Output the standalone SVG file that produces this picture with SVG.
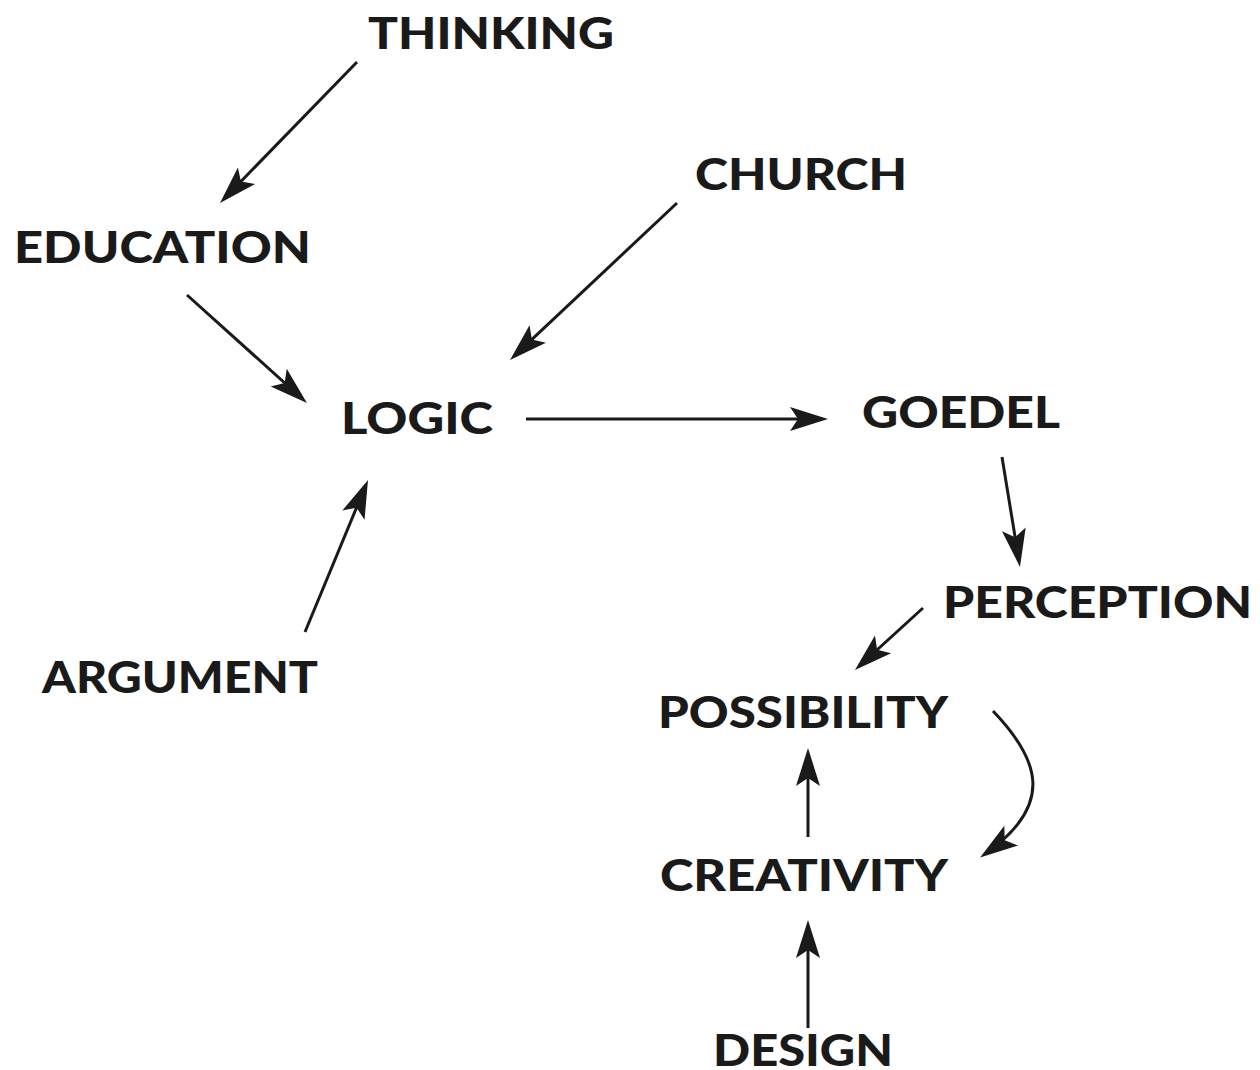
<svg xmlns="http://www.w3.org/2000/svg" width="1260" height="1070" viewBox="0 0 1260 1070">
  <defs>
    <style>
      .label { font-family: "Lato", "Liberation Sans", "DejaVu Sans", sans-serif; font-weight: 900; font-size: 43px; fill: #1a1a1a; }
      .edge { fill: none; stroke: #1a1a1a; stroke-width: 3; stroke-linecap: butt; }
    </style>
    <marker id="head" markerUnits="userSpaceOnUse" viewBox="-36 -13 44 26" markerWidth="44" markerHeight="26" refX="0" refY="0" orient="auto">
      <path d="M6,0 L-32,-12 L-24,0 L-32,12 Z" fill="#1a1a1a"/>
    </marker>
  </defs>
  <rect width="1260" height="1070" fill="#ffffff"/>

  <!-- connectors -->
  <g id="connectors">
    <line class="edge" x1="357" y1="62" x2="224.2" y2="198.7" marker-end="url(#head)"/>
    <line class="edge" x1="677" y1="203" x2="514.4" y2="355.9" marker-end="url(#head)"/>
    <line class="edge" x1="187" y1="295" x2="302.5" y2="399" marker-end="url(#head)"/>
    <line class="edge" x1="526" y1="419" x2="822" y2="419" marker-end="url(#head)"/>
    <line class="edge" x1="1002" y1="457" x2="1019" y2="561" marker-end="url(#head)"/>
    <line class="edge" x1="923" y1="608" x2="859.4" y2="666" marker-end="url(#head)"/>
    <line class="edge" x1="305" y1="632" x2="365.7" y2="485.5" marker-end="url(#head)"/>
    <line class="edge" x1="808" y1="837" x2="808" y2="754" marker-end="url(#head)"/>
    <line class="edge" x1="808" y1="1028" x2="808" y2="926" marker-end="url(#head)"/>
    <path class="edge" d="M993,711 C1040,760 1055,805 985,854" marker-end="url(#head)"/>
  </g>

  <!-- nodes -->
  <g id="thinking"><text class="label" x="368" y="49" textLength="246" lengthAdjust="spacingAndGlyphs">THINKING</text></g>
  <g id="church"><text class="label" x="695" y="190" textLength="212" lengthAdjust="spacingAndGlyphs">CHURCH</text></g>
  <g id="education"><text class="label" x="14" y="263" textLength="297" lengthAdjust="spacingAndGlyphs">EDUCATION</text></g>
  <g id="logic"><text class="label" x="341" y="434" textLength="152" lengthAdjust="spacingAndGlyphs">LOGIC</text></g>
  <g id="goedel"><text class="label" x="862" y="428" textLength="198" lengthAdjust="spacingAndGlyphs">GOEDEL</text></g>
  <g id="perception"><text class="label" x="943" y="618" textLength="309" lengthAdjust="spacingAndGlyphs">PERCEPTION</text></g>
  <g id="argument"><text class="label" x="42" y="693" textLength="276" lengthAdjust="spacingAndGlyphs">ARGUMENT</text></g>
  <g id="possibility"><text class="label" x="658" y="728" textLength="290" lengthAdjust="spacingAndGlyphs">POSSIBILITY</text></g>
  <g id="creativity"><text class="label" x="660" y="891" textLength="288" lengthAdjust="spacingAndGlyphs">CREATIVITY</text></g>
  <g id="design"><text class="label" x="713" y="1066" textLength="180" lengthAdjust="spacingAndGlyphs">DESIGN</text></g>
</svg>
